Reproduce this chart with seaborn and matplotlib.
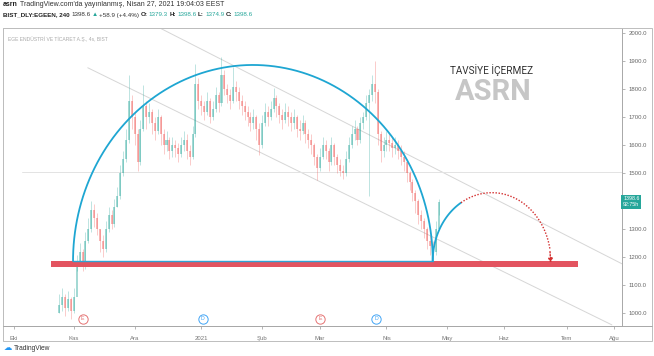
import numpy as np
import pandas as pd
import seaborn as sns
import matplotlib
matplotlib.use("Agg")
import matplotlib.pyplot as plt
from matplotlib.patches import Rectangle

# ---------------- data ----------------
first_open = 1000
closes = [
    1030, 1060, 1020, 1050, 1010, 1060, 1180, 1220, 1170, 1260,
    1300, 1370, 1340, 1300, 1260, 1230, 1300, 1350, 1320, 1380,
    1420, 1500, 1550, 1620, 1760, 1700, 1640, 1540, 1660, 1740,
    1700, 1720, 1680, 1650, 1700, 1640, 1600, 1620, 1580, 1600,
    1590, 1570, 1600, 1620, 1580, 1560, 1640, 1820, 1760, 1740,
    1720, 1760, 1700, 1730, 1780, 1750, 1850, 1800, 1780, 1760,
    1810, 1790, 1760, 1740, 1720, 1700, 1680, 1700, 1660, 1600,
    1680, 1720, 1700, 1730, 1770, 1740, 1710, 1690, 1720, 1700,
    1680, 1700, 1660, 1650, 1680, 1640, 1620, 1600, 1560, 1520,
    1560, 1600, 1580, 1540, 1600, 1560, 1530, 1510, 1500, 1550,
    1600, 1640, 1660, 1620, 1680, 1700, 1750, 1780, 1820, 1790,
    1640, 1580, 1600, 1620, 1610, 1590, 1600, 1580, 1560, 1540,
    1500, 1470, 1430, 1400, 1350, 1330, 1300, 1260, 1240, 1220, 1300, 1398.6]
highs = [
    1070, 1090, 1070, 1080, 1060, 1090, 1210, 1250, 1230, 1290,
    1340, 1400, 1390, 1360, 1300, 1280, 1330, 1380, 1370, 1410,
    1450, 1530, 1580, 1660, 1850, 1780, 1720, 1660, 1690, 1815,
    1760, 1750, 1730, 1700, 1730, 1710, 1660, 1650, 1630, 1630,
    1620, 1610, 1630, 1650, 1640, 1600, 1670, 1890, 1840, 1780,
    1760, 1790, 1770, 1760, 1810, 1790, 1915, 1870, 1820, 1800,
    1880, 1830, 1810, 1780, 1760, 1740, 1720, 1730, 1710, 1680,
    1710, 1750, 1740, 1760, 1805, 1780, 1750, 1730, 1750, 1740,
    1720, 1730, 1710, 1690, 1710, 1690, 1660, 1640, 1610, 1570,
    1590, 1630, 1620, 1590, 1630, 1610, 1570, 1550, 1530, 1580,
    1630, 1670, 1690, 1670, 1700, 1720, 1780, 1800, 1850, 1900,
    1800, 1650, 1630, 1650, 1640, 1630, 1630, 1620, 1600, 1580,
    1550, 1510, 1480, 1440, 1410, 1370, 1340, 1310, 1280, 1260, 1330, 1410]
lows = [
    1000, 1010, 990, 1010, 980, 1000, 1150, 1170, 1150, 1160,
    1250, 1290, 1310, 1280, 1220, 1200, 1220, 1290, 1300, 1310,
    1380, 1410, 1490, 1540, 1610, 1660, 1600, 1510, 1530, 1650,
    1660, 1680, 1640, 1620, 1640, 1600, 1570, 1580, 1550, 1560,
    1560, 1540, 1560, 1580, 1550, 1530, 1550, 1630, 1730, 1710,
    1690, 1710, 1680, 1690, 1720, 1720, 1740, 1780, 1750, 1730,
    1750, 1760, 1730, 1710, 1690, 1670, 1650, 1660, 1620, 1565,
    1590, 1670, 1670, 1690, 1720, 1700, 1680, 1660, 1680, 1670,
    1650, 1660, 1630, 1620, 1640, 1610, 1590, 1570, 1530, 1475,
    1510, 1550, 1550, 1510, 1530, 1530, 1500, 1490, 1480, 1490,
    1540, 1590, 1620, 1600, 1610, 1660, 1690, 1420, 1760, 1750,
    1600, 1540, 1560, 1580, 1580, 1560, 1570, 1550, 1530, 1510,
    1470, 1440, 1400, 1360, 1320, 1300, 1270, 1230, 1210, 1195, 1210, 1350]

month_labels = ["Eki", "Kas", "Ara", "2021", "Şub", "Mar", "Nis", "May", "Haz", "Tem", "Ağu"]
month_pos = [-15.7, 5, 26, 49, 70, 90, 113, 133.9, 153.6, 175.3, 191.6]
price_ticks = [1000, 1100, 1200, 1300, 1400, 1500, 1600, 1700, 1800, 1900, 2000]

# drawings (bar index / price)
support_level = 1187
support_band = (1165, 1187)
support_span = (-3.0, 179.2)
big_arc = dict(left=4.7, right=129.0, top=1887)
small_arc = dict(left=129.0, right=169.8, top=1431)
small_arc_split = 2.12
channel_1 = ([34.7, 194.4], [2019, 1177])
channel_2 = ([9.8, 190.9], [1877, 959])
h_line_level = 1505
h_line_start = -12.9
events_x = [8.1, 49.6, 90.0, 109.4]
events_lbl = ["E", "D", "E", "D"]
events_col = ["#e57373", "#42a5f5", "#e57373", "#42a5f5"]
last_price = 1398.6
change, change_pct = 58.9, 4.4
ohlc_vals = [("O:", 1379.3), ("H:", 1398.6), ("L:", 1374.9), ("C:", 1398.6)]

# ---------------- figure ----------------
sns.set_theme(style="white")
plt.rcParams["font.family"] = ["Liberation Sans", "DejaVu Sans"]

W, H = 654, 356
fig = plt.figure(figsize=(W / 100, H / 100), dpi=100)
fig.patch.set_facecolor("white")
ax = fig.add_axes([3 / W, (H - 326) / H, 619 / W, 298 / H])
ax.set_facecolor("white")

n = len(closes)
idx = np.arange(n)
opens = np.array([first_open] + closes[:-1], dtype=float)
cl = np.array(closes, dtype=float)
up = cl >= opens
c_up, c_dn = "#26a69a", "#ef5350"
cols = np.where(up, c_up, c_dn)

ax.vlines(idx, lows, highs, colors=cols, linewidth=0.5, alpha=0.42, zorder=2)
body = np.maximum(np.abs(cl - opens), 3)
ax.bar(idx, body, bottom=np.minimum(cl, opens), width=0.7, color=cols,
       alpha=0.42, linewidth=0, zorder=2)

sns.lineplot(x=channel_1[0], y=channel_1[1], ax=ax, color="#d6d6d6", linewidth=0.7, zorder=1)
sns.lineplot(x=channel_2[0], y=channel_2[1], ax=ax, color="#d6d6d6", linewidth=0.7, zorder=1)
ax.plot([h_line_start, 200], [h_line_level, h_line_level], color="#e3e3e3", linewidth=0.7, zorder=1)

ax.fill_between(support_span, support_band[0], support_band[1], color="#e35460", linewidth=0, zorder=3)
ax.plot([big_arc["left"], big_arc["right"]], [support_level, support_level],
        color="#2ea3d4", linewidth=1.0, zorder=4)

blue = "#1ea6d2"
th = np.linspace(0, np.pi, 300)
cx = (big_arc["left"] + big_arc["right"]) / 2
a = (big_arc["right"] - big_arc["left"]) / 2
hh = big_arc["top"] - support_level
sns.lineplot(x=cx + a * np.cos(th), y=support_level + hh * np.sin(th), ax=ax,
             color=blue, linewidth=1.3, sort=False, zorder=4)

cx2 = (small_arc["left"] + small_arc["right"]) / 2
a2 = (small_arc["right"] - small_arc["left"]) / 2
h2 = small_arc["top"] - support_level
th_b = np.linspace(np.pi, small_arc_split, 60)
sns.lineplot(x=cx2 + a2 * np.cos(th_b), y=support_level + h2 * np.sin(th_b), ax=ax,
             color=blue, linewidth=1.3, sort=False, zorder=4)
th_r = np.linspace(small_arc_split, 0.18, 120)
ax.plot(cx2 + a2 * np.cos(th_r), support_level + h2 * np.sin(th_r),
        color="#d32f2f", linewidth=1.0, linestyle=(0, (1, 1.2)), zorder=4)
xs = cx2 + a2 * np.cos(0.18)
ys = support_level + h2 * np.sin(0.18)
ax.annotate("", xy=(small_arc["right"], support_band[0] + 5), xytext=(xs, ys),
            arrowprops=dict(arrowstyle="-|>", color="#d32f2f", lw=1.0,
                            linestyle=(0, (1, 1.2)), mutation_scale=6), zorder=5)

for ex, el, ec in zip(events_x, events_lbl, events_col):
    ax.scatter([ex], [980], s=45, facecolor="white", edgecolor=ec, linewidth=0.7, zorder=6)
    ax.text(ex, 980, el, color=ec, fontsize=3.8, ha="center", va="center", zorder=7)

ax.set_xlim(-19.5, 194.4)
ax.set_ylim(955, 2019)
ax.yaxis.tick_right()
ax.set_yticks(price_ticks)
ax.set_yticklabels(["" if abs(p - last_price) < 40 else f"{p:.1f}" for p in price_ticks])
ax.tick_params(axis="y", right=True, length=2, width=0.5, color="#999999",
               labelsize=4.3, labelcolor="#666666", pad=3)
ax.set_xticks(month_pos)
ax.set_xticklabels(month_labels)
ax.tick_params(axis="x", bottom=True, length=2, width=0.5, color="#999999",
               labelsize=4.3, labelcolor="#777777", pad=5)
for s in ax.spines.values():
    s.set_color("#a8a8a8")
    s.set_linewidth(0.7)
ax.spines["left"].set_color("#cfcfcf")
ax.spines["top"].set_color("#cfcfcf")

ax.text(1.002, (last_price - 955) / (2019 - 955), f"{last_price:.1f}\n92:75h",
        transform=ax.transAxes, fontsize=3.8, color="white", ha="left", va="center",
        linespacing=1.2, zorder=10,
        bbox=dict(boxstyle="square,pad=0.35", facecolor="#26a69a", edgecolor="none"))

ax.text(0.7225, 0.86, "TAVSİYE İÇERMEZ", transform=ax.transAxes, fontsize=7.2,
        color="#333333", ha="left", va="center", family=["Roboto", "DejaVu Sans"])
ax.text(0.7305, 0.785, "ASRN", transform=ax.transAxes, fontsize=21, fontweight="bold",
        color="#c6c6c6", ha="left", va="center", family=["Roboto", "DejaVu Sans"])
ax.text(0.008, 0.962, "EGE ENDÜSTRİ VE TİCARET A.Ş., 4s, BIST", transform=ax.transAxes,
        fontsize=3.6, color="#aaaaaa", ha="left", va="center")

fig.add_artist(Rectangle((3 / W, (H - 341) / H), 649 / W, 313 / H, transform=fig.transFigure,
                         fill=False, edgecolor="#bdbdbd", linewidth=0.7))
fig.add_artist(plt.Line2D([3 / W, 652 / W], [(H - 326) / H] * 2, transform=fig.transFigure,
                          color="#a8a8a8", linewidth=0.7))

renderer = fig.canvas.get_renderer()


def run(pieces, y_px, x_px=3, fs=5.0, gap=2.2):
    x = x_px
    for txt, col, bold in pieces:
        t = fig.text(x / W, 1 - y_px / H, txt, fontsize=fs, color=col, va="center",
                     fontweight="bold" if bold else "normal",
                     family=["Liberation Sans", "DejaVu Sans"])
        bb = t.get_window_extent(renderer=renderer)
        x += bb.width + gap


run([("asrn", "#222222", True),
     ("TradingView.com'da yayınlanmış, Nisan 27, 2021 19:04:03 EEST", "#333333", False)], 5)
pieces = [("BIST_DLY:EGEEN, 240", "#222222", True),
          (f"{last_price:.1f}", "#333333", False), ("▲", "#26a69a", False),
          (f"+{change} (+{change_pct}%)", "#333333", False)]
for lab, v in ohlc_vals:
    pieces += [(lab, "#222222", True), (f"{v:.1f}", "#26a69a", False)]
run(pieces, 15, fs=4.5, gap=1.4)

fig.text(4 / W, 1 - 347.5 / H, "☁", fontsize=6, color="#2196f3", va="center",
         family=["DejaVu Sans"])
fig.text(14 / W, 1 - 348 / H, "TradingView", fontsize=4.8, color="#333333", va="center")

fig.savefig("out.png", dpi=100, facecolor="white")
